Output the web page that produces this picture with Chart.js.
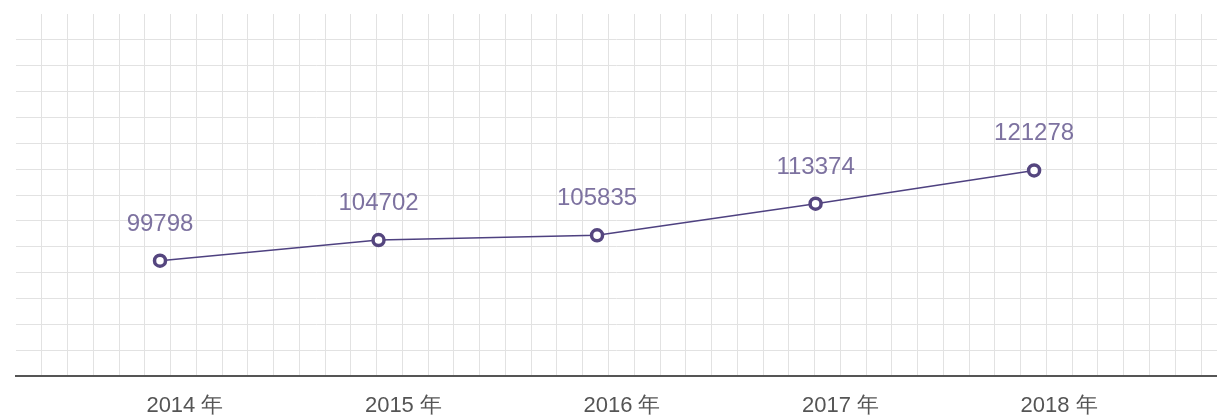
<!DOCTYPE html>
<html>
<head>
<meta charset="utf-8">
<script src="https://cdn.jsdelivr.net/npm/chart.js@4/dist/chart.umd.min.js"></script>
<style>
  html, body { margin: 0; padding: 0; background: #fff; overflow: hidden; }
  #wrap { width: 1217px; height: 415px; }
</style>
</head>
<body>
<div id="wrap"><canvas id="myChart"></canvas></div>
<script>
const years = ['2014 年', '2015 年', '2016 年', '2017 年', '2018 年']
const values = [99798, 104702, 105835, 113374, 121278]

// background grid: 46 columns x 14 rows
const gridCols = 46
const gridRows = 14

const labelPlugin = {
    id: 'pointLabels',
    afterDatasetsDraw: (chart)=>{
        const ctx = chart.ctx
        const meta = chart.getDatasetMeta(0)
        ctx.save()
        ctx.font = '24px "Liberation Sans", Arial, sans-serif'
        ctx.fillStyle = '#7d72a0'
        ctx.textAlign = 'center'
        ctx.textBaseline = 'alphabetic'
        meta.data.forEach((pt, i)=>{
            ctx.fillText(values[i], pt.x, pt.y - 30)
        })
        ctx.restore()
    }
}

const ctx = document.getElementById('myChart')
let myChart = new Chart(ctx, {
    type: 'line',
    data: {
        datasets: [{
            data: values.map((v, i)=>({x: i, y: v})),
            borderColor: '#4e4180',
            borderWidth: 1.5,
            pointRadius: 5.5,
            pointBorderWidth: 3.5,
            pointBorderColor: '#55467f',
            pointBackgroundColor: '#fff',
            tension: 0,
            xAxisID: 'x',
            yAxisID: 'y'
        }]
    },
    options: {
        responsive: true,
        maintainAspectRatio: false,
        animation: false,
        events: [],
        layout: { autoPadding: false, padding: { left: 16, top: 14, right: 0, bottom: -21 } },
        plugins: {
            legend: { display: false },
            tooltip: { enabled: false }
        },
        scales: {
            x: {
                type: 'linear',
                display: false,
                min: -0.659,
                max: 4.837
            },
            // year labels sit a little to the right of the points
            xl: {
                type: 'linear',
                position: 'bottom',
                min: -0.773,
                max: 4.723,
                afterBuildTicks: (axis)=>{ axis.ticks = years.map((_, i)=>({value: i})) },
                ticks: {
                    callback: (v)=>years[v],
                    color: '#555',
                    font: { size: 22, family: '"Liberation Sans", Arial, sans-serif', lineHeight: 1 },
                    padding: 19,
                    maxRotation: 0
                },
                grid: { display: false, drawTicks: false },
                border: { display: true, color: '#555', width: 2 }
            },
            y: {
                display: false,
                min: 72351,
                max: 158511
            },
            gx: {
                type: 'linear',
                position: 'top',
                min: 0,
                max: 46.62,
                afterBuildTicks: (axis)=>{
                    let t = []
                    for (let k = 1; k <= gridCols; k++) t.push({value: k})
                    axis.ticks = t
                },
                ticks: { display: false },
                grid: { color: '#e2e2e2', lineWidth: 1, drawTicks: false },
                border: { display: false }
            },
            gy: {
                type: 'linear',
                position: 'left',
                min: 0,
                max: gridRows,
                afterBuildTicks: (axis)=>{
                    let t = []
                    for (let k = 1; k < gridRows; k++) t.push({value: k})
                    axis.ticks = t
                },
                ticks: { display: false },
                grid: { color: '#e2e2e2', lineWidth: 1, drawTicks: false },
                border: { display: false }
            }
        }
    },
    plugins: [labelPlugin]
});
</script>
</body>
</html>
